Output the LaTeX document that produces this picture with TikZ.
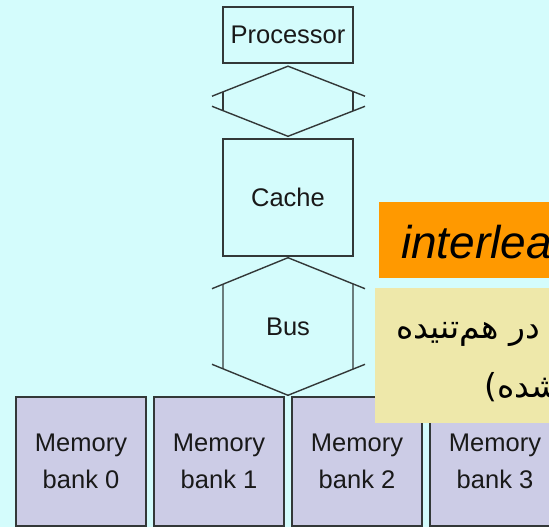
\documentclass[tikz,border=0pt]{standalone}
\usepackage{fontspec}
\setmainfont{Liberation Sans}
\newfontfamily\arabicfont[Script=Arabic]{DejaVu Sans}
\TeXXeTstate=1
\usetikzlibrary{calc}
\definecolor{bgc}{HTML}{D4FCFC}
\definecolor{memc}{HTML}{CCCCE6}
\definecolor{linec}{HTML}{333838}
\definecolor{orangec}{HTML}{FF9900}
\definecolor{yellowc}{HTML}{EEE8AA}
\tikzset{
  unit/.style={draw=linec, line width=1.4pt, minimum width=130pt, inner sep=0pt, align=center,
    font=\fontsize{25.5}{37}\selectfont, text=black!90},
  bank/.style={unit, fill=memc, minimum height=129pt},
  conn/.style={draw=linec, line width=1.4pt},
  lbl/.style={inner sep=0pt, font=\fontsize{25.5}{30}\selectfont, text=black!90},
  fatext/.style={anchor=west, inner sep=0pt, font=\arabicfont\fontsize{33}{38}\selectfont}
}
\begin{document}
\begin{tikzpicture}[x=1pt,y=-1pt]
\useasboundingbox (0,0) rectangle (549,527);
\clip (0,0) rectangle (549,527);
\fill[bgc] (0,0) rectangle (549,527);

\node[unit, minimum height=56pt] (proc) at (288,35) {Processor};
\node[unit, minimum height=117pt] (cache) at (288,197.5) {Cache};
\node[lbl] (bus) at (288,327) {Bus};

\node[bank] (m0) at (81,461.5) {Memory\\bank 0};
\node[bank] (m1) at (219,461.5) {Memory\\bank 1};
\node[bank] (m2) at (357,461.5) {Memory\\bank 2};
\node[bank] (m3) at (495,461.5) {Memory\\bank 3};

% processor <-> cache double arrow
\coordinate (pa) at ($(proc.south)+(0,2.5)$);
\coordinate (pb) at ($(cache.north)+(0,-2)$);
\draw[conn] ($(pa)+(-76,30)$) -- (pa) -- ($(pa)+(77,30)$);
\draw[conn] ($(pb)+(-76,-30)$) -- (pb) -- ($(pb)+(77,-30)$);
\draw[conn] ($(pa)+(-65,25.7)$) -- ($(pb)+(-65,-25.7)$);
\draw[conn] ($(pa)+(65,25.7)$) -- ($(pb)+(65,-25.7)$);

% cache <-> memory bus
\coordinate (ba) at ($(cache.south)+(0,1)$);
\coordinate (bb) at ($(m1.north east)!0.5!(m2.north west)+(0,-1)$);
\draw[conn] ($(ba)+(-76,31)$) -- (ba) -- ($(ba)+(77,31)$);
\draw[conn] ($(bb)+(-76,-31)$) -- (bb) -- ($(bb)+(77,-31)$);
\draw[conn] ($(ba)+(-65,26.5)$) -- ($(bb)+(-65,-26.5)$);
\draw[conn] ($(ba)+(65,26.5)$) -- ($(bb)+(65,-26.5)$);

% overlays
\fill[orangec] (379,202) rectangle (560,278);
\node[anchor=base west, inner sep=0pt, font=\fontsize{46}{50}\selectfont\itshape] (il) at (401,258) {interleaved memory};
\fill[yellowc] (375,288) rectangle (560,423);
\node[fatext] (fa1) at (396,330) {\beginR حافظه‌ی در هم‌تنیده\endR};
\node[fatext] (fa2) at (484,387) {\beginR (بانک‌بندی شده)\endR};
\end{tikzpicture}
\end{document}
